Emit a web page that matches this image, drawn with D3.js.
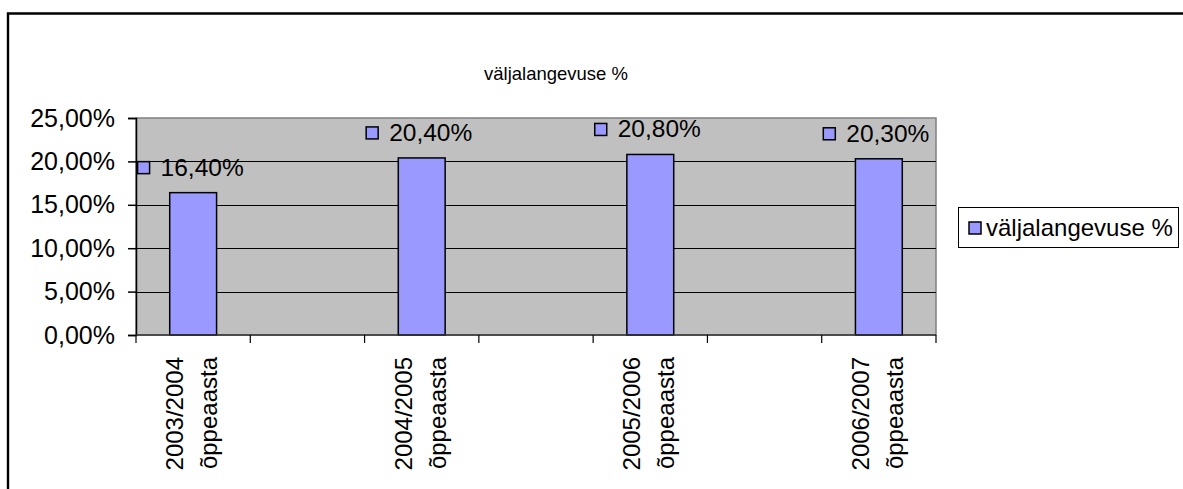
<!DOCTYPE html>
<html>
<head>
<meta charset="utf-8">
<script src="https://cdn.jsdelivr.net/npm/d3@7"></script>
<style>
  body { margin: 0; background: #fff; }
  text { font-family: "Liberation Sans", Arial, sans-serif; fill: #000; }
</style>
</head>
<body>
<svg id="chart"></svg>
<script>
// categories (empty slots between the school years, as in the source chart)
const categories = ["2003/2004 õppeaasta", "", "2004/2005 õppeaasta", "", "2005/2006 õppeaasta", "", "2006/2007 õppeaasta"];
const values = [16.4, null, 20.4, null, 20.8, null, 20.3];
const yTicks = [0, 5, 10, 15, 20, 25];
const seriesName = "väljalangevuse %";

const width = 1183, height = 489;
const plot = { left: 136, right: 936, top: 118, bottom: 335 };
const fmt = v => v.toFixed(2).replace(".", ",") + "%";

const svg = d3.select("#chart")
  .attr("width", width)
  .attr("height", height);

// outer frame (cut off at right / bottom)
svg.append("path")
  .attr("d", `M8,${height + 5} L8,13.5 L${width + 5},13.5`)
  .attr("fill", "none")
  .attr("stroke", "#000")
  .attr("stroke-width", 2.4);

const x = d3.scaleBand()
  .domain(d3.range(categories.length))
  .range([plot.left, plot.right]);

const y = d3.scaleLinear()
  .domain([0, 25])
  .range([plot.bottom, plot.top]);

// plot background
svg.append("rect")
  .attr("x", plot.left)
  .attr("y", plot.top)
  .attr("width", plot.right - plot.left)
  .attr("height", plot.bottom - plot.top)
  .attr("fill", "#c0c0c0")
  .attr("stroke", "#808080")
  .attr("stroke-width", 1.5);

// gridlines
svg.append("g")
  .selectAll("line")
  .data(yTicks.filter(t => t > 0 && t < 25))
  .enter()
  .append("line")
  .attr("x1", plot.left)
  .attr("x2", plot.right)
  .attr("y1", d => Math.round(y(d)) + 0.5)
  .attr("y2", d => Math.round(y(d)) + 0.5)
  .attr("stroke", "#000")
  .attr("stroke-width", 1);

// bars
const barW = x.bandwidth() * 0.41;
const data = categories.map((c, i) => ({ i, c, v: values[i] })).filter(d => d.v != null);

svg.append("g")
  .selectAll("rect")
  .data(data)
  .enter()
  .append("rect")
  .attr("x", d => x(d.i) + (x.bandwidth() - barW) / 2)
  .attr("y", d => y(d.v))
  .attr("width", barW)
  .attr("height", d => y(0) - y(d.v))
  .attr("fill", "#9999ff")
  .attr("stroke", "#000")
  .attr("stroke-width", 1.5);

// y axis
const yAxis = svg.append("g")
  .attr("transform", `translate(${plot.left},0)`)
  .call(d3.axisLeft(y).tickValues(yTicks).tickSize(8).tickPadding(13).tickFormat(fmt));
yAxis.select(".domain").attr("stroke", "#000").attr("stroke-width", 1.5);
yAxis.selectAll(".tick line").attr("stroke", "#000").attr("stroke-width", 1.5);
yAxis.selectAll("text")
  .style("font-family", '"Liberation Sans", Arial, sans-serif')
  .style("font-size", "25px")
  .attr("fill", "#000");

// x axis: ticks at band boundaries
const xTicks = d3.range(categories.length + 1).map(i => plot.left + i * x.step());
svg.append("line")
  .attr("x1", plot.left).attr("x2", plot.right)
  .attr("y1", plot.bottom).attr("y2", plot.bottom)
  .attr("stroke", "#333").attr("stroke-width", 1.5);
svg.append("g")
  .selectAll("line")
  .data(xTicks)
  .enter()
  .append("line")
  .attr("x1", d => d).attr("x2", d => d)
  .attr("y1", plot.bottom).attr("y2", plot.bottom + 8)
  .attr("stroke", "#000").attr("stroke-width", 1.2);

// x labels, rotated, two lines
const xl = svg.append("g")
  .selectAll("text")
  .data(data)
  .enter()
  .append("text")
  .attr("transform", d => `translate(${x(d.i) + x.bandwidth() / 2 - 10},357) rotate(-90)`)
  .attr("text-anchor", "end")
  .style("font-size", "24px");
xl.each(function(d) {
  const parts = d.c.split(" ");
  d3.select(this).selectAll("tspan")
    .data(parts)
    .enter()
    .append("tspan")
    .attr("x", 0)
    .attr("y", (p, k) => k * 34)
    .text(p => p);
});

// data labels
const lab = svg.append("g")
  .selectAll("g")
  .data(data)
  .enter()
  .append("g");
lab.append("rect")
  .attr("width", 12).attr("height", 12)
  .attr("fill", "#9999ff").attr("stroke", "#000").attr("stroke-width", 1.5);
lab.append("text")
  .style("font-size", "24.5px")
  .text(d => fmt(d.v));
lab.each(function(d) {
  const g = d3.select(this);
  const tw = g.select("text").node().getComputedTextLength();
  const total = 14 + 10 + tw;
  const cx = x(d.i) + x.bandwidth() / 2 - 3;
  const left = cx - total / 2;
  const base = y(d.v) - 17;
  g.select("rect").attr("x", left + 1).attr("y", base - 14);
  g.select("text").attr("x", left + 24).attr("y", base);
});

// title
svg.append("text")
  .attr("x", 556)
  .attr("y", 80)
  .attr("text-anchor", "middle")
  .style("font-size", "18.5px")
  .text(seriesName);

// legend
const lg = svg.append("g");
lg.append("rect")
  .attr("x", 958.5).attr("y", 207.5)
  .attr("width", 220).attr("height", 40)
  .attr("fill", "#fff").attr("stroke", "#000").attr("stroke-width", 1);
lg.append("rect")
  .attr("x", 969).attr("y", 222)
  .attr("width", 12).attr("height", 12)
  .attr("fill", "#9999ff").attr("stroke", "#000").attr("stroke-width", 1.5);
lg.append("text")
  .attr("x", 986).attr("y", 236)
  .style("font-size", "24px")
  .text(seriesName);
</script>
</body>
</html>
